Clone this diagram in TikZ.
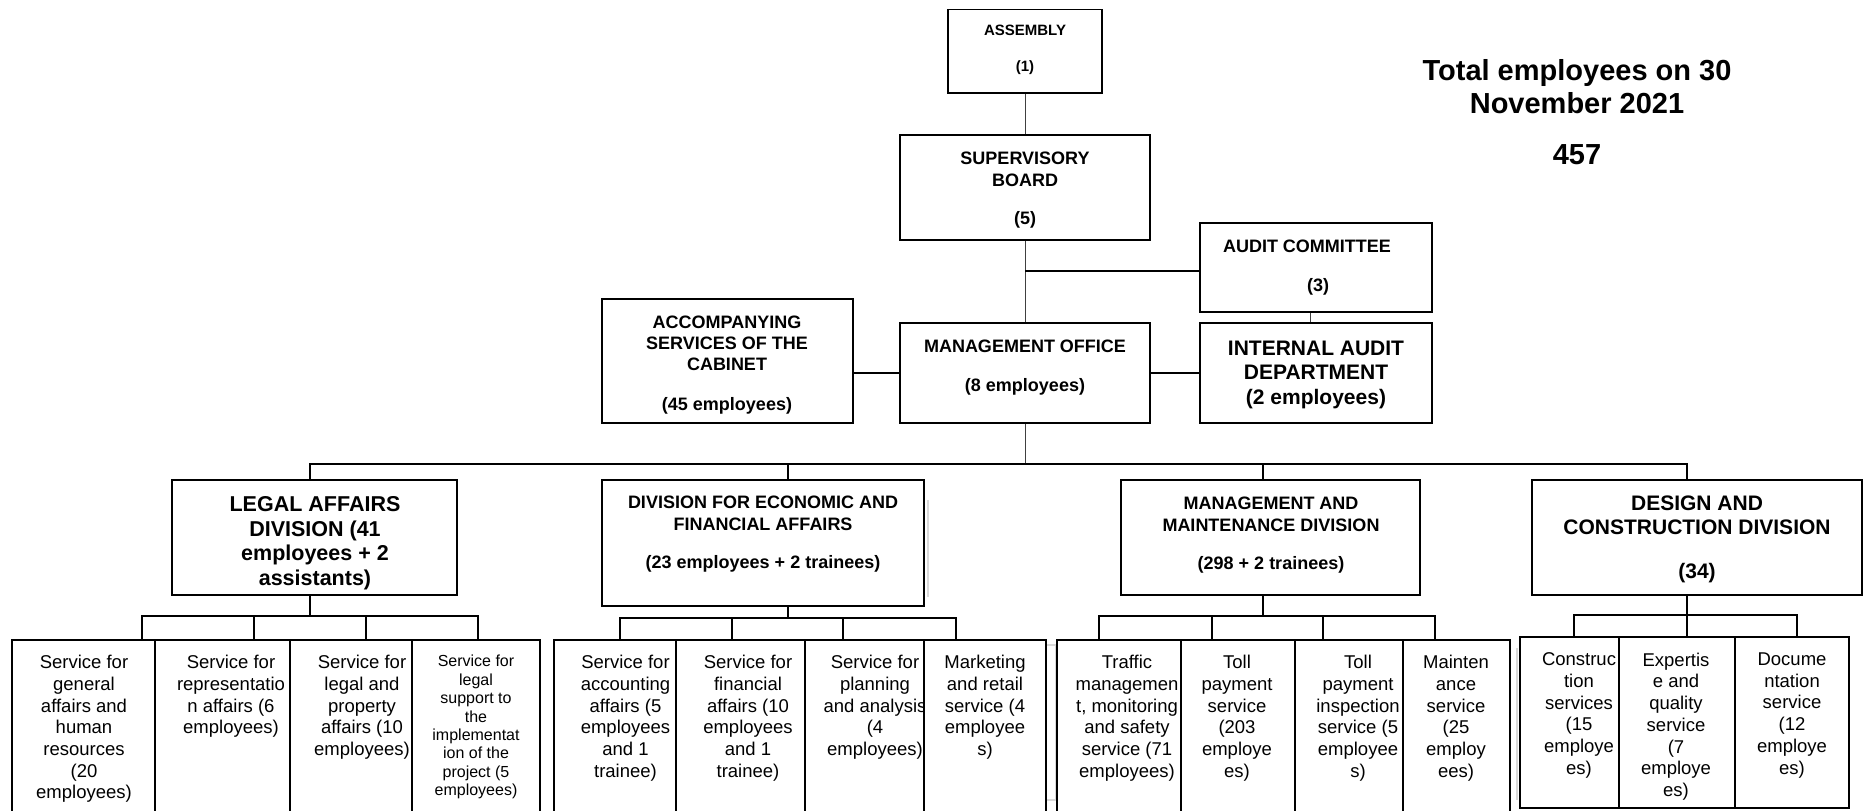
\documentclass[tikz,border=0pt]{standalone}
\usepackage{fontspec}
\setmainfont{Liberation Sans}
\usetikzlibrary{fit}
\tikzset{
  bx/.style={draw=black, line width=1.5pt, fill=white, inner sep=0pt},
  ln/.style={draw=black, line width=1.4pt},
  tln/.style={draw=black!75, line width=1pt},
  shd/.style={draw=black!15, line width=1.5pt},
  hd/.style={align=center, inner sep=0pt, anchor=north},
  sv/.style={font=\fontsize{18.5}{21.7}\selectfont, align=center, inner sep=0pt, anchor=north},
  svs/.style={font=\fontsize{16}{18.4}\selectfont, align=center, inner sep=0pt, anchor=north},
}
\begin{document}
\begin{tikzpicture}[x=1pt,y=-1pt]
\useasboundingbox (0,0) rectangle (1863,811);
\clip (0,0) rectangle (1863,811);

% faint shadow artefacts
\draw[shd] (1046,645) -- (1056,645) -- (1056,800) -- (1046,800);
\draw[shd] (1517,648) -- (1517,800);
\draw[shd] (928,500) -- (928,597);

% ---------- top part ----------
\node[bx, fit={(948,9.5) (1102,93)}] (asm) {};
\node[hd, font=\bfseries\fontsize{15}{18}\selectfont] (asmT) at (1025,24.6) {ASSEMBLY\\[18pt](1)};

\node[bx, fit={(900,135) (1150,240)}] (sup) {};
\node[hd, font=\bfseries\fontsize{18}{22}\selectfont] (supT) at (1025,151.5) {SUPERVISORY\\BOARD\\[16pt](5)};

\node[bx, fit={(1200,223) (1432,312)}] (ac) {};
\node[hd, font=\bfseries\fontsize{18}{22}\selectfont] (acT) at (1307,239.5) {AUDIT COMMITTEE};
\node[hd, font=\bfseries\fontsize{18}{22}\selectfont] (acN) at (1318,278.5) {(3)};

\node[bx, fit={(1200,323) (1432,423)}] (ia) {};
\node[hd, font=\bfseries\fontsize{21}{24.5}\selectfont] (iaT) at (1316,340.5) {INTERNAL AUDIT\\DEPARTMENT\\(2 employees)};

\node[bx, fit={(900,323) (1150,423)}] (mo) {};
\node[hd, font=\bfseries\fontsize{18}{21.5}\selectfont] (moT) at (1025,339.5) {MANAGEMENT OFFICE\\[17.5pt](8 employees)};

\node[bx, fit={(602,299) (853,423)}] (acc) {};
\node[hd, font=\bfseries\fontsize{18}{21}\selectfont] (accT) at (727,315.5) {ACCOMPANYING\\SERVICES OF THE\\CABINET\\[19pt](45 employees)};

\node[hd, font=\bfseries\fontsize{29}{33}\selectfont] (tot) at (1577,59.6) {Total employees on 30\\November 2021\\[18pt]457};

% ---------- divisions ----------
\node[bx, fit={(172,480) (457,595)}] (lad) {};
\node[hd, font=\bfseries\fontsize{21.5}{24.8}\selectfont] (ladT) at (315,496) {LEGAL AFFAIRS\\DIVISION (41\\employees + 2\\assistants)};

\node[bx, fit={(602,480) (924,606)}] (efa) {};
\node[hd, font=\bfseries\fontsize{18}{22}\selectfont] (efaT) at (763,495.5) {DIVISION FOR ECONOMIC AND\\FINANCIAL AFFAIRS\\[16pt](23 employees + 2 trainees)};

\node[bx, fit={(1121,480) (1420,595)}] (mmd) {};
\node[hd, font=\bfseries\fontsize{18}{22}\selectfont] (mmdT) at (1271,496.5) {MANAGEMENT AND\\MAINTENANCE DIVISION\\[16pt](298 + 2 trainees)};

\node[bx, fit={(1532,480) (1862,595)}] (dcd) {};
\node[hd, font=\bfseries\fontsize{21}{24}\selectfont] (dcdT) at (1697,495.5) {DESIGN AND\\CONSTRUCTION DIVISION\\[20pt](34)};

% ---------- legal services ----------
\node[bx, fit={(12,640) (155,830)}] (l1) {};
\node[sv] (l1T) at (84,655) {Service for\\general\\affairs and\\human\\resources\\(20\\employees)};
\node[bx, fit={(155,640) (290,830)}] (l2) {};
\node[sv] (l2T) at (231,655) {Service for\\representatio\\n affairs (6\\employees)};
\node[bx, fit={(290,640) (412,830)}] (l3) {};
\node[sv] (l3T) at (362,655) {Service for\\legal and\\property\\affairs (10\\employees)};
\node[bx, fit={(412,640) (540,830)}] (l4) {};
\node[svs] (l4T) at (476,655) {Service for\\legal\\support to\\the\\implementat\\ion of the\\project (5\\employees)};

% ---------- economic services ----------
\node[bx, fit={(554,640) (676,830)}] (e1) {};
\node[sv] (e1T) at (625.5,655) {Service for\\accounting\\affairs (5\\employees\\and 1\\trainee)};
\node[bx, fit={(676,640) (805,830)}] (e2) {};
\node[sv] (e2T) at (748,655) {Service for\\financial\\affairs (10\\employees\\and 1\\trainee)};
\node[bx, fit={(805,640) (924,830)}] (e3) {};
\node[sv] (e3T) at (875,655) {Service for\\planning\\and analysis\\(4\\employees)};
\node[bx, fit={(924,640) (1046,830)}] (e4) {};
\node[sv] (e4T) at (985,655) {Marketing\\and retail\\service (4\\employee\\s)};

% ---------- management services ----------
\node[bx, fit={(1057,640) (1181,830)}] (m1) {};
\node[sv] (m1T) at (1127,655) {Traffic\\managemen\\t, monitoring\\and safety\\service (71\\employees)};
\node[bx, fit={(1181,640) (1295,830)}] (m2) {};
\node[sv] (m2T) at (1237,655) {Toll\\payment\\service\\(203\\employe\\es)};
\node[bx, fit={(1295,640) (1403,830)}] (m3) {};
\node[sv] (m3T) at (1358,655) {Toll\\payment\\inspection\\service (5\\employee\\s)};
\node[bx, fit={(1403,640) (1510,830)}] (m4) {};
\node[sv] (m4T) at (1456,655) {Mainten\\ance\\service\\(25\\employ\\ees)};

% ---------- design services ----------
\node[bx, fit={(1520,637) (1619,808)}] (d1) {};
\node[sv] (d1T) at (1579,652.6) {Construc\\tion\\services\\(15\\employe\\es)};
\node[bx, fit={(1619,637) (1735,808)}] (d2) {};
\node[sv] (d2T) at (1676,652.6) {Expertis\\e and\\quality\\service\\(7\\employe\\es)};
\node[bx, fit={(1735,637) (1849,808)}] (d3) {};
\node[sv] (d3T) at (1792,652.6) {Docume\\ntation\\service\\(12\\employe\\es)};

% ---------- connectors, top ----------
\draw[tln] (asm.south) -- (sup.north);
\draw[tln] (sup.south) -- (mo.north);
\coordinate (acj) at (1025,271);
\draw[ln] (acj) -- (acj -| ac.west);
\coordinate (aci) at (1310,318);
\draw[tln] (aci |- ac.south) -- (aci |- ia.north);
\draw[ln] (mo.west) -- (acc.east |- mo.west);
\draw[ln] (mo.east) -- (ia.west |- mo.east);

% ---------- main bus ----------
\coordinate (bL) at (310,464);
\coordinate (bE) at (788,464);
\coordinate (bM) at (1263,464);
\coordinate (bD) at (1687,464);
\draw[tln] (mo.south) -- (mo.south |- bL);
\draw[ln] (bL |- lad.north) -- (bL) -- (bD) -- (bD |- dcd.north);
\draw[ln] (bE) -- (bE |- efa.north);
\draw[ln] (bM) -- (bM |- mmd.north);

% ---------- legal sub-bus ----------
\coordinate (la) at (142,616);
\coordinate (lb) at (254,616);
\coordinate (lc) at (366,616);
\coordinate (ld) at (478,616);
\draw[ln] (bL |- lad.south) -- (bL |- la);
\draw[ln] (la |- l1.north) -- (la) -- (ld) -- (ld |- l4.north);
\draw[ln] (lb) -- (lb |- l2.north);
\draw[ln] (lc) -- (lc |- l3.north);

% ---------- economic sub-bus ----------
\coordinate (ea) at (620,618);
\coordinate (eb) at (732,618);
\coordinate (ec) at (843,618);
\coordinate (ed) at (956,618);
\draw[ln] (bE |- efa.south) -- (bE |- ea);
\draw[ln] (ea |- e1.north) -- (ea) -- (ed) -- (ed |- e4.north);
\draw[ln] (eb) -- (eb |- e2.north);
\draw[ln] (ec) -- (ec |- e3.north);

% ---------- management sub-bus ----------
\coordinate (ma) at (1099,616);
\coordinate (mb) at (1212,616);
\coordinate (mc) at (1323,616);
\coordinate (md) at (1435,616);
\draw[ln] (bM |- mmd.south) -- (bM |- ma);
\draw[ln] (ma |- m1.north) -- (ma) -- (md) -- (md |- m4.north);
\draw[ln] (mb) -- (mb |- m2.north);
\draw[ln] (mc) -- (mc |- m3.north);

% ---------- design sub-bus ----------
\coordinate (da) at (1574,615);
\coordinate (db) at (1687,615);
\coordinate (dc) at (1797,615);
\draw[ln] (bD |- dcd.south) -- (db);
\draw[ln] (da |- d1.north) -- (da) -- (dc) -- (dc |- d3.north);
\draw[ln] (db) -- (db |- d2.north);
\end{tikzpicture}
\end{document}
